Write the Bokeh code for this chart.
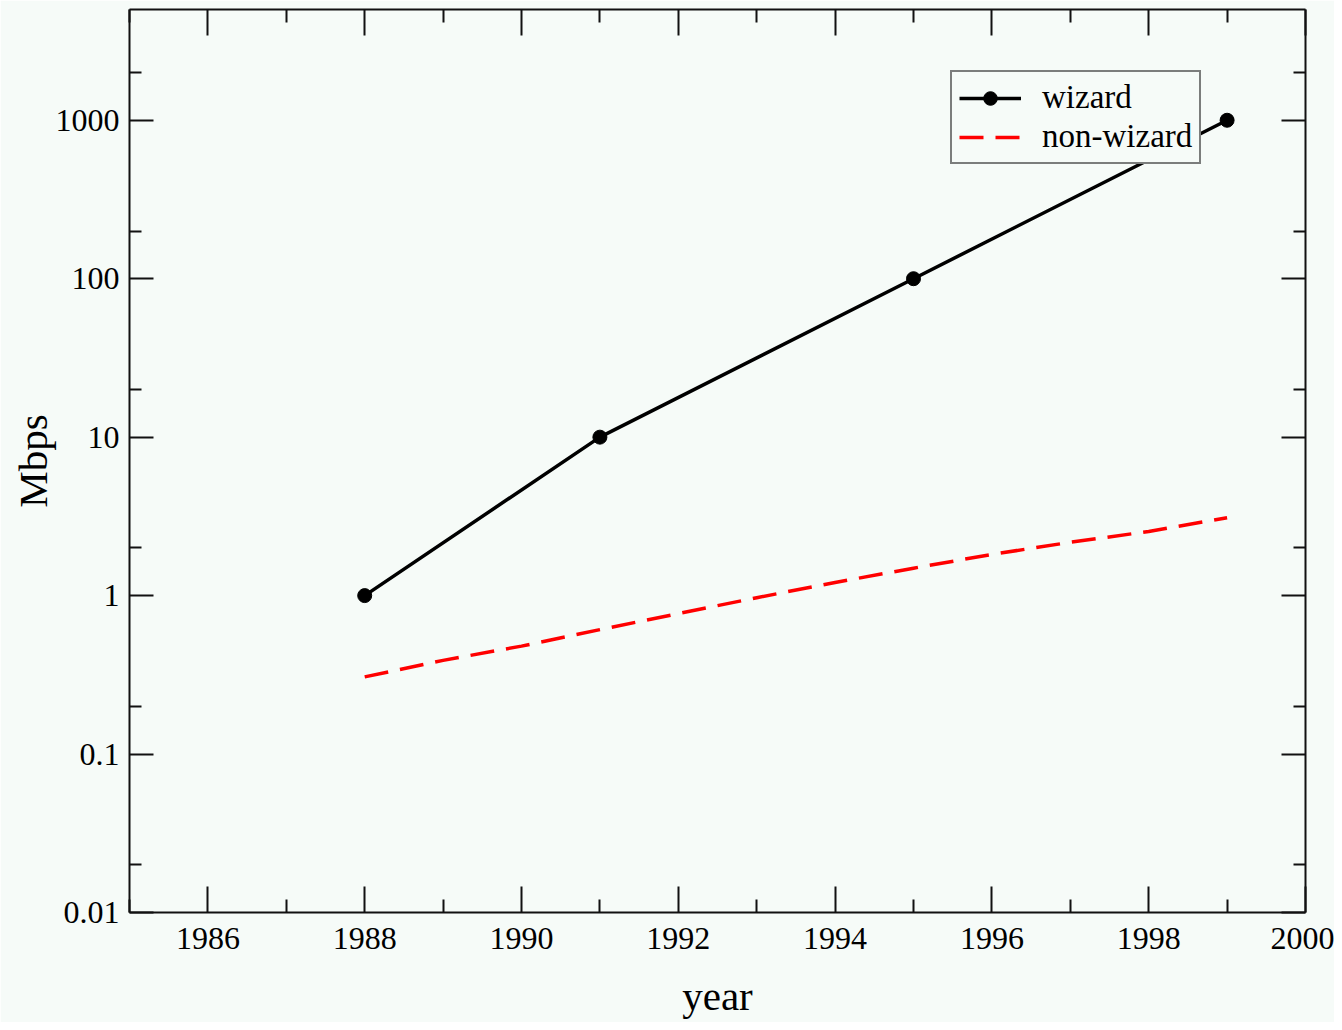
from bokeh.plotting import figure
from bokeh.models import (FixedTicker, LinearAxis, LogAxis, NumeralTickFormatter,
                          CustomJSTickFormatter, Range1d, Legend, LegendItem)
from bokeh.embed import file_html
from bokeh.resources import INLINE

# ---- data ----
wizard_years = [1988, 1991, 1995, 1999]
wizard_mbps = [1, 10, 100, 1000]

nonwizard_years = [1988, 1989, 1990, 1991, 1992, 1993, 1994, 1995, 1996, 1997, 1998, 1999]
nonwizard_mbps = [0.307, 0.39, 0.48, 0.61, 0.77, 0.97, 1.21, 1.49, 1.82, 2.17, 2.54, 3.1]

x_major = [1986, 1988, 1990, 1992, 1994, 1996, 1998, 2000]
x_minor = [1985, 1987, 1989, 1991, 1993, 1995, 1997, 1999]
y_major = [0.01, 0.1, 1, 10, 100, 1000]
y_minor = [0.02, 0.2, 2, 20, 200, 2000]

BG = "#f6fbf8"
FONT = "Liberation Serif"
AX = "#111111"

p = figure(width=1334, height=1022, output_backend="svg", toolbar_location=None,
           y_axis_type="log", x_range=Range1d(1985, 2000), y_range=Range1d(0.01, 5000),
           min_border_left=129, min_border_right=29, min_border_top=9, min_border_bottom=110,
           background_fill_color=BG, border_fill_color=BG, outline_line_color=None)
p.xgrid.visible = False
p.ygrid.visible = False

xt = FixedTicker(ticks=x_major, minor_ticks=x_minor)
yt = FixedTicker(ticks=y_major, minor_ticks=y_minor)


def style_axis(ax, tick_in, minor_in):
    ax.axis_line_color = AX
    ax.axis_line_width = 2
    ax.major_tick_line_color = AX
    ax.major_tick_line_width = 2
    ax.minor_tick_line_color = AX
    ax.minor_tick_line_width = 2
    ax.major_tick_in = tick_in
    ax.major_tick_out = 0
    ax.minor_tick_in = minor_in
    ax.minor_tick_out = 0
    ax.major_label_text_font = FONT
    ax.major_label_text_color = "black"
    ax.major_label_text_font_size = "32px"
    ax.axis_label_text_font = FONT
    ax.axis_label_text_font_style = "normal"
    ax.axis_label_text_color = "black"
    ax.axis_label_text_font_size = "41px"


xa = p.xaxis[0]
xa.ticker = xt
style_axis(xa, 26, 13)
xa.axis_label = "year"
xa.major_label_standoff = 15
xa.axis_label_standoff = 21

ya = p.yaxis[0]
ya.ticker = yt
ya.formatter = NumeralTickFormatter(format="0.[00]")
style_axis(ya, 24, 12)
ya.axis_label = "Mbps"
ya.major_label_standoff = 10
ya.axis_label_standoff = -3

top = LinearAxis(ticker=xt, formatter=CustomJSTickFormatter(code="return '';"))
style_axis(top, 26, 13)
top.major_label_standoff = 0
p.add_layout(top, "above")

right = LogAxis(ticker=yt, formatter=CustomJSTickFormatter(code="return '';"))
style_axis(right, 24, 12)
right.major_label_standoff = 0
p.add_layout(right, "right")

r_non = p.line(nonwizard_years, nonwizard_mbps, line_color="#ff0000", line_width=3.5,
               line_dash="24 12")
r_wl = p.line(wizard_years, wizard_mbps, line_color="black", line_width=3.5)
r_wm = p.scatter(wizard_years, wizard_mbps, marker="circle", size=14,
                 fill_color="black", line_color="black")

legend = Legend(items=[LegendItem(label="wizard", renderers=[r_wl, r_wm]),
                       LegendItem(label="non-wizard", renderers=[r_non])],
                location=(821, 748), margin=0, padding=7, spacing=2,
                glyph_width=62, glyph_height=34, label_height=34, label_standoff=21,
                label_text_font=FONT, label_text_font_size="33px",
                label_text_color="black",
                border_line_color="black", border_line_width=2,
                background_fill_color=BG, background_fill_alpha=1.0)
p.add_layout(legend)

open("out.html", "w").write(file_html(p, INLINE))
